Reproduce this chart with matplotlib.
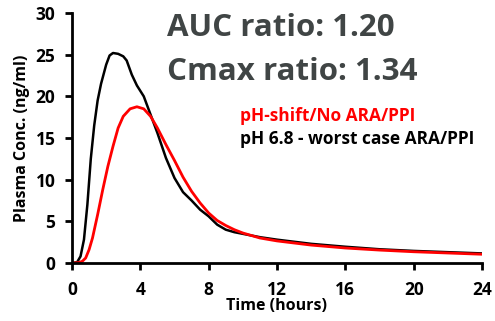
import matplotlib
matplotlib.use("Agg")
import matplotlib.pyplot as plt

plt.rcParams['font.family'] = ['Open Sans', 'DejaVu Sans']

# profil koncentracji w osoczu, dwa scenariusze
t_worst = [0, 0.3, 0.5, 0.7, 0.9, 1.1, 1.3, 1.5, 1.7, 2.0, 2.2, 2.4, 2.7, 3.0, 3.2, 3.5,
           3.8, 4.2, 4.6, 5.0, 5.5, 6.0, 6.5, 7.0, 7.5, 8.0, 8.5, 9.0, 9.5, 10, 11, 12,
           14, 16, 18, 20, 22, 24]
c_worst = [0, 0.1, 0.8, 2.8, 7.0, 12.5, 16.5, 19.5, 21.5, 23.8, 24.9, 25.2, 25.1, 24.8,
           24.3, 22.6, 21.3, 20.0, 17.8, 15.6, 12.6, 10.2, 8.5, 7.5, 6.4, 5.6, 4.6, 4.0,
           3.7, 3.5, 3.1, 2.8, 2.3, 1.95, 1.65, 1.45, 1.3, 1.15]

t_shift = [0, 0.4, 0.6, 0.8, 1.0, 1.2, 1.5, 1.8, 2.1, 2.4, 2.7, 3.0, 3.4, 3.8, 4.2, 4.6,
           5.0, 5.5, 6.0, 6.5, 7.0, 7.5, 8.0, 8.5, 9.0, 9.5, 10, 11, 12, 14, 16, 18, 20,
           22, 24]
c_shift = [0, 0.05, 0.2, 0.6, 1.6, 3.0, 5.8, 8.8, 11.6, 14.0, 16.2, 17.6, 18.5, 18.75,
           18.5, 17.6, 16.2, 14.2, 12.3, 10.3, 8.6, 7.2, 6.0, 5.1, 4.5, 4.0, 3.6, 3.0,
           2.65, 2.15, 1.8, 1.55, 1.35, 1.2, 1.05]

x_ticks = [0, 4, 8, 12, 16, 20, 24]
y_ticks = [0, 5, 10, 15, 20, 25, 30]

fig = plt.figure(figsize=(4.95, 3.21), dpi=100)
ax = fig.add_axes([72 / 495, 58 / 321, 410 / 495, 250 / 321])

ax.plot(t_worst, c_worst, color='black', lw=1.8)
ax.plot(t_shift, c_shift, color='#ff0000', lw=2.0)

ax.set_xlim(0, 24)
ax.set_ylim(0, 30)
ax.set_xticks(x_ticks)
ax.set_yticks(y_ticks)
for s in ['top', 'right']:
    ax.spines[s].set_visible(False)
for s in ['left', 'bottom']:
    ax.spines[s].set_linewidth(2)
ax.tick_params(direction='out', width=2, length=5, labelsize=12.5)
ax.tick_params(axis='y', pad=7)
ax.tick_params(axis='x', pad=8)
for lbl in ax.get_xticklabels() + ax.get_yticklabels():
    lbl.set_fontweight('bold')

ax.set_xlabel('Time (hours)', fontsize=11.5, fontweight='bold', labelpad=-1)
ax.set_ylabel('Plasma Conc. (ng/ml)', fontsize=11.5, fontweight='bold', labelpad=4)

fig.text(167 / 495, 1 - 28 / 321, 'AUC ratio: 1.20', fontsize=22.5, fontweight='bold',
         color='#404545', va='center')
fig.text(167 / 495, 1 - 72 / 321, 'Cmax ratio: 1.34', fontsize=22.5, fontweight='bold',
         color='#404545', va='center')
fig.text(240 / 495, 1 - 116 / 321, 'pH-shift/No ARA/PPI', fontsize=12.5, fontweight='bold',
         color='#ff0000', va='center')
fig.text(240 / 495, 1 - 139 / 321, 'pH 6.8 - worst case ARA/PPI', fontsize=12.5,
         fontweight='bold', color='black', va='center')

fig.savefig('out.png', dpi=100)
